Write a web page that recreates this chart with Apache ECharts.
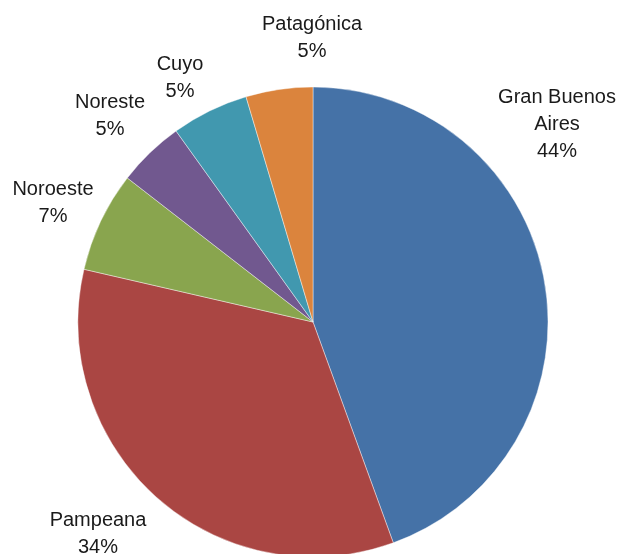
<!DOCTYPE html>
<html>
<head>
<meta charset="utf-8">
<script src="https://cdn.jsdelivr.net/npm/echarts@6/dist/echarts.min.js"></script>
<style>
  html, body { margin: 0; padding: 0; background: #fff; }
  #chart { width: 619px; height: 554px; }
</style>
</head>
<body>
<div id="chart"></div>
<script>
// regiones y participación (%)
const regions = ['Gran Buenos\nAires', 'Pampeana', 'Noroeste', 'Noreste', 'Cuyo', 'Patagónica']
const shares = [44.45, 34.15, 6.9, 4.6, 5.3, 4.6]
const colors = ['#4572A7', '#AA4643', '#89A54E', '#71588F', '#4198AF', '#DB843D']
// label centres (px), placed like the original chart
const labelPos = [[557, 124], [98, 534], [53, 203], [110, 116], [180, 78], [312, 38]]

const chart = echarts.init(document.getElementById('chart'))

chart.setOption({
  animation: false,
  color: colors,
  series: [
    {
      type: 'pie',
      center: [313, 322],
      radius: 235,
      startAngle: 90,
      clockwise: true,
      avoidLabelOverlap: false,
      itemStyle: { borderColor: 'rgba(255,255,255,0.7)', borderWidth: 0.6 },
      label: {
        show: true,
        position: 'outside',
        fontFamily: 'Liberation Sans, Arial, sans-serif',
        fontSize: 20,
        lineHeight: 27,
        color: '#1a1a1a',
        formatter: p => p.name + '\n' + Math.round(p.percent) + '%'
      },
      labelLine: { show: false },
      labelLayout: p => ({
        x: labelPos[p.dataIndex][0],
        y: labelPos[p.dataIndex][1],
        align: 'center',
        verticalAlign: 'middle'
      }),
      data: regions.map((r, i) => ({ name: r, value: shares[i] }))
    }
  ]
})
</script>
</body>
</html>
